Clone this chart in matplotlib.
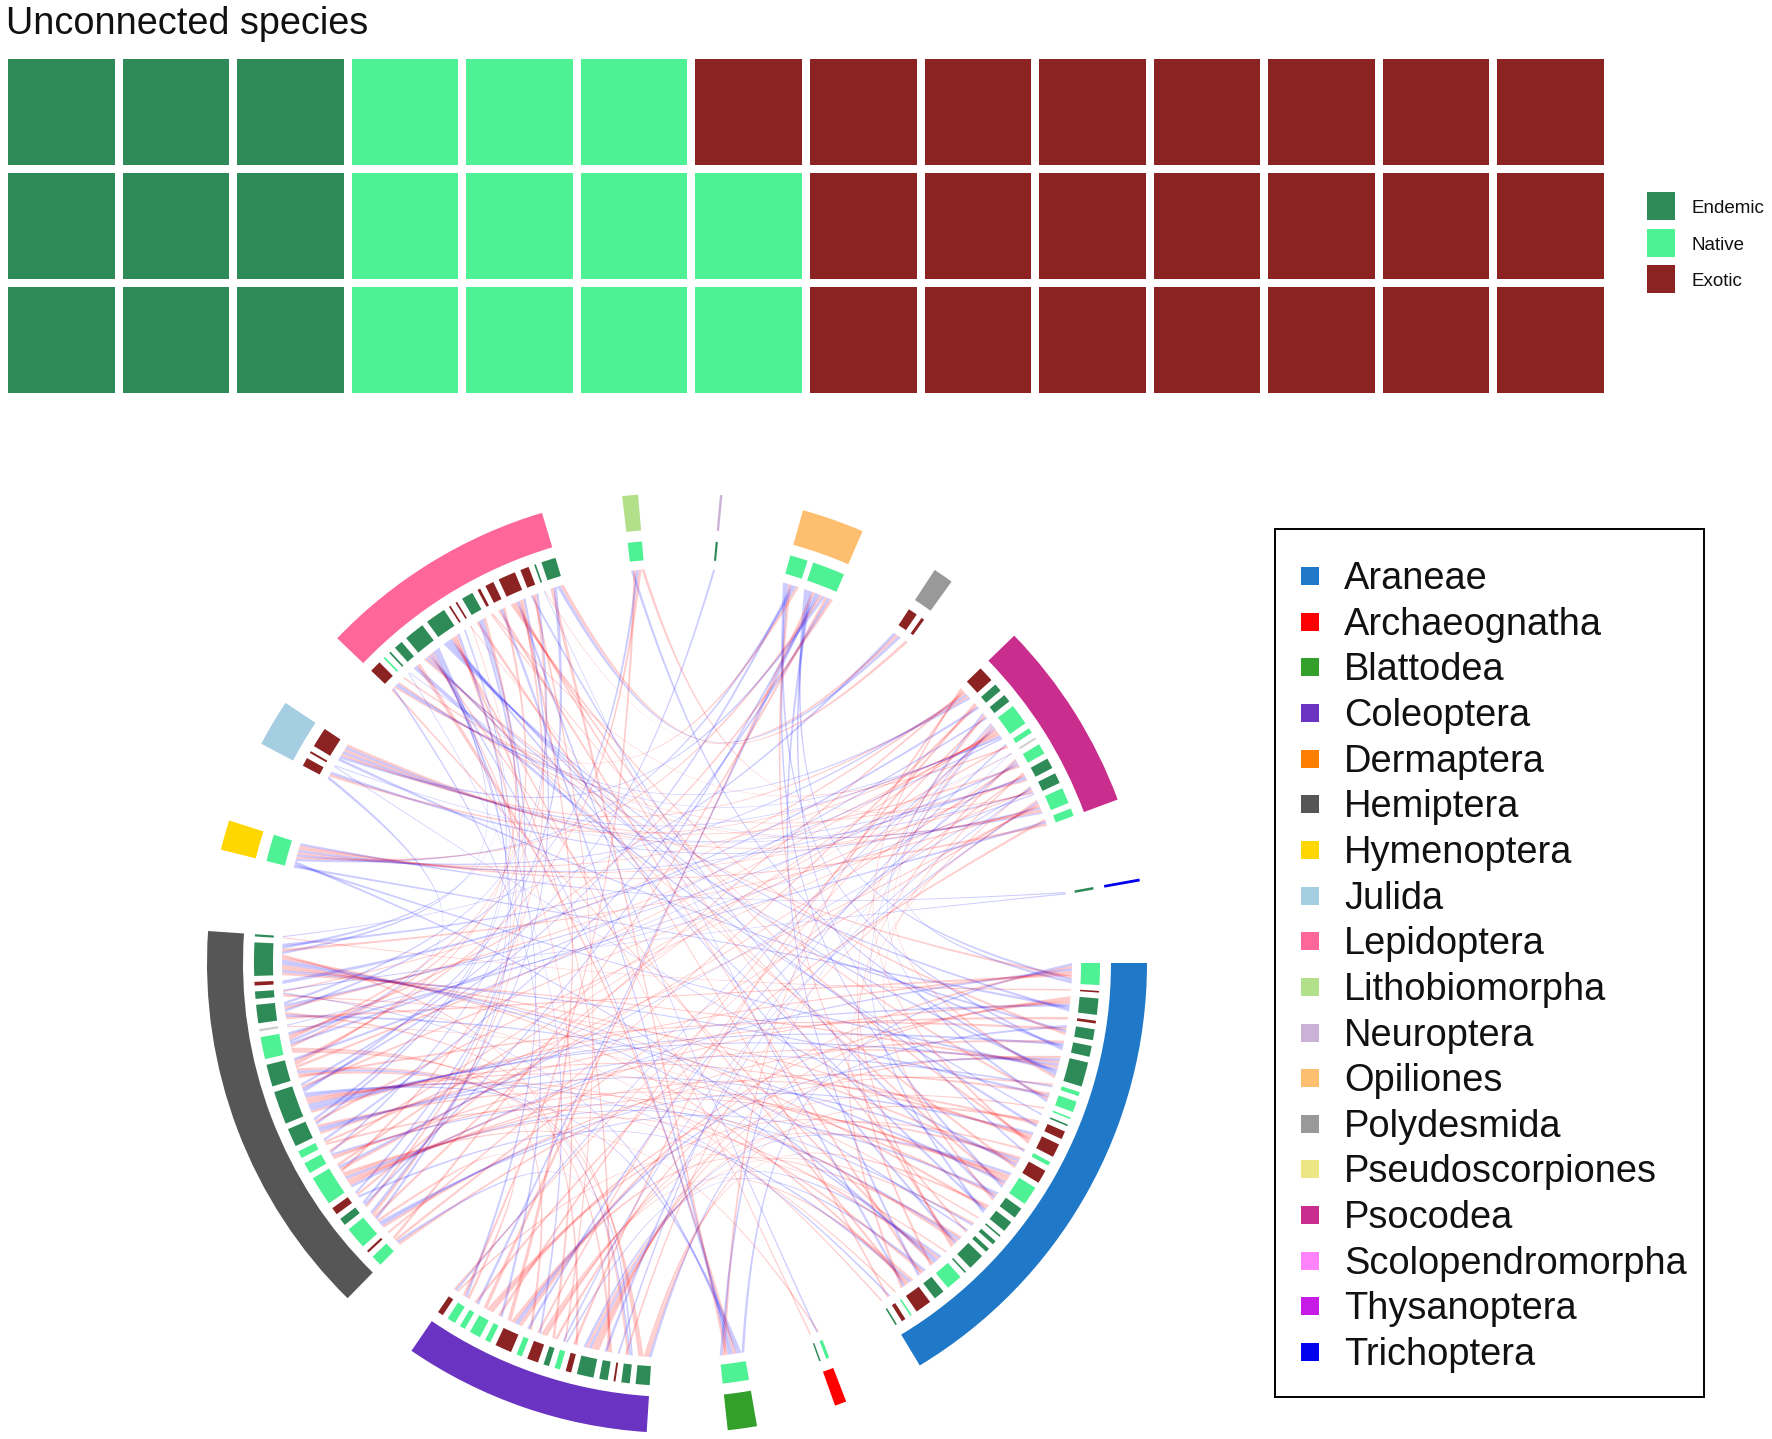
import numpy as np
import matplotlib
matplotlib.use("Agg")
import matplotlib.pyplot as plt
from matplotlib.colors import ListedColormap
from matplotlib.patches import Wedge, PathPatch, Rectangle
from matplotlib.path import Path

plt.rcParams['font.family'] = ['Liberation Sans', 'DejaVu Sans']

# ---------- waffle data ----------
STATUS_NAMES = ["Endemic", "Native", "Exotic"]
STATUS_KEYS = ["E", "N", "X"]
UNCONNECTED_COUNTS = [9, 11, 22]
WAFFLE_ROWS = 3
STATUS_COLORS = {"E": "#2E8B57", "N": "#4EF295", "X": "#8B2323", "U": "#CCCCCC"}

# ---------- legend ----------
ORDERS = ["Araneae", "Archaeognatha", "Blattodea", "Coleoptera", "Dermaptera", "Hemiptera",
          "Hymenoptera", "Julida", "Lepidoptera", "Lithobiomorpha", "Neuroptera", "Opiliones",
          "Polydesmida", "Pseudoscorpiones", "Psocodea", "Scolopendromorpha", "Thysanoptera",
          "Trichoptera"]
ORDER_COLORS = ["#1F78C8", "#FF0000", "#33A02C", "#6A33C2", "#FF7F00", "#565656",
                "#FFD700", "#A6CEE3", "#FF6699", "#B2DF8A", "#CAB2D6", "#FDBF6F",
                "#999999", "#EEE685", "#C92D8E", "#FF83FA", "#C71CE8", "#0000EE"]

# ---------- chord sectors (clockwise from 0 degrees) ----------
SECTORS = ["Araneae", "Archaeognatha", "Blattodea", "Coleoptera", "Hemiptera", "Hymenoptera",
           "Julida", "Lepidoptera", "Lithobiomorpha", "Neuroptera", "Opiliones", "Polydesmida",
           "Psocodea", "Trichoptera"]
SECTOR_SPAN = [58.9, 1.45, 3.6, 30.7, 49.4, 3.7, 5.8, 29.6, 1.95, 0.3, 7.7, 2.5, 23.8, 0.35]
SECTOR_GAP = [10, 9.85, 9.9, 10.1, 10.05, 10.15, 10.1, 10, 10, 10, 10, 10.1, 10, 10]

SP_STATUS = {
    "Araneae": "N X E X E E E N N N E X X N X N E E E E E E E N E X N X E".split(),
    "Archaeognatha": "N E".split(),
    "Blattodea": ["N"],
    "Coleoptera": "E E X E E X N E X N X N N N N X".split(),
    "Hemiptera": "N X N E X N N N E E E N U E E X E E".split(),
    "Hymenoptera": ["N"],
    "Julida": "X X X".split(),
    "Lepidoptera": "X N E E E E X X E X X X X E E".split(),
    "Lithobiomorpha": ["N"],
    "Neuroptera": ["E"],
    "Opiliones": "N N".split(),
    "Polydesmida": "X X".split(),
    "Psocodea": "X E E N N U N E E N N".split(),
    "Trichoptera": ["E"],
}
SP_SIZE = {
    "Araneae": [8, 0.6, 6, 1, 4, 4, 9, 1.5, 4, 0.6, 0.6, 3, 5, 1.5, 5, 7, 4, 4, 0.6, 1.5, 1.5, 6, 0.6, 6, 4, 6, 0.6, 1.5, 0.6],
    "Archaeognatha": [1.5, 0.7],
    "Blattodea": [9],
    "Coleoptera": [5, 3, 0.7, 3, 6, 2, 2, 2, 4, 2, 6, 2, 4, 2, 3, 2],
    "Hemiptera": [3, 0.6, 6, 2, 2, 8, 3, 2, 5, 9, 6, 6, 0.6, 5, 2, 1, 9, 0.6],
    "Hymenoptera": [9],
    "Julida": [3, 0.7, 7],
    "Lepidoptera": [4, 0.6, 0.6, 3, 7, 7, 0.6, 0.6, 4, 1, 3, 6, 3, 0.6, 5],
    "Lithobiomorpha": [5],
    "Neuroptera": [1],
    "Opiliones": [6, 11],
    "Polydesmida": [3, 1],
    "Psocodea": [6, 3, 3, 8, 2, 0.7, 4, 4, 4, 6, 3],
    "Trichoptera": [1],
}

# ---------- interactions: species number -> partner species numbers ----------
RED_LINKS = {
    0: [57, 61, 74, 39], 1: [65], 2: [53, 36, 42], 3: [56], 4: [58, 81], 5: [48],
    6: [64, 54, 36, 94], 7: [44], 8: [50, 79], 9: [40], 11: [53, 32], 12: [62, 57, 81, 91],
    13: [36], 14: [64, 44, 74], 15: [53, 40, 54, 77], 16: [57, 98], 17: [64, 32], 18: [60],
    19: [36], 20: [81], 21: [56, 42, 93, 87], 22: [47], 23: [53, 97, 70], 24: [57, 80],
    25: [64, 74, 99, 40], 26: [55], 27: [78], 28: [62], 29: [53], 30: [75],
    31: [84, 73, 91], 32: [58, 61], 33: [100, 59], 35: [75, 58], 37: [92, 64], 38: [82],
    39: [74], 40: [94], 41: [59], 42: [81], 43: [93], 44: [88], 45: [101], 46: [85, 50],
    47: [98], 48: [100], 49: [92], 50: [91], 51: [75], 52: [94], 53: [97, 81], 54: [95],
    55: [100], 56: [99], 57: [98], 58: [94], 59: [82], 61: [94], 62: [91], 64: [100],
    66: [99, 94, 101, 88], 67: [94], 69: [97, 91, 100], 70: [100, 87], 71: [98], 77: [50],
    78: [58], 79: [95], 80: [59], 83: [89], 84: [90], 85: [99, 58], 88: [59, 48], 96: [53],
}
BLUE_LINKS = {
    0: [94, 53, 31, 88], 2: [75, 57, 66], 4: [32, 69], 5: [74, 57, 87], 6: [57, 75, 66, 42, 85],
    7: [56], 8: [64, 93], 10: [73], 11: [75], 12: [50], 13: [88], 14: [56, 68], 15: [61, 36, 87],
    16: [82, 50], 17: [74, 94], 19: [53], 20: [64], 21: [75, 54], 23: [64, 38, 66], 24: [36, 88],
    25: [52, 83], 27: [57], 29: [81], 31: [80, 74, 57, 62, 96], 33: [48, 58], 34: [95], 35: [99],
    38: [100], 40: [72], 41: [97], 43: [70], 45: [88], 46: [74], 47: [94], 50: [74], 51: [88],
    53: [99], 54: [78], 56: [76], 57: [84, 87], 59: [93], 60: [101], 61: [97, 85], 63: [92],
    64: [74], 65: [89], 66: [102, 98, 91, 87], 67: [100, 59], 68: [98], 69: [94, 99, 88],
    70: [94, 91], 72: [100], 74: [51], 75: [56], 76: [64], 78: [52], 81: [50], 82: [61],
    84: [89], 86: [57], 88: [55], 94: [64], 96: [58], 99: [59], 102: [62],
}

# ---------- geometry and style ----------
W, H = 1772, 1439
CX, CY = 677, 963
R_OUT, R_IN = 470, 434
S_OUT, S_IN = 423, 404
R_LINK = 395
SEG_GAP = 0.8
RED, BLUE = (1, 0, 0, 0.2), (0, 0, 1, 0.2)

fig = plt.figure(figsize=(W / 100, H / 100), dpi=100, facecolor="white")

def px_axes(x0, y0, x1, y1):
    return fig.add_axes([x0 / W, 1 - y1 / H, (x1 - x0) / W, (y1 - y0) / H])

# ---------- waffle ----------
ax_w = px_axes(4, 55, 1608, 397)
codes = np.concatenate([np.full(c, i) for i, c in enumerate(UNCONNECTED_COUNTS)])
grid = codes.reshape(-1, WAFFLE_ROWS).T
ax_w.pcolormesh(grid, cmap=ListedColormap([STATUS_COLORS[k] for k in STATUS_KEYS]), vmin=0, vmax=2,
                edgecolors="white", linewidth=5.7)
ax_w.set_axis_off()

# ---------- chord ----------
ax = px_axes(CX - 480, CY - 480, CX + 480, CY + 480)
ax.set_xlim(-480, 480)
ax.set_ylim(-480, 480)
ax.set_axis_off()

seg_range = []
angle = 0.0
for name, span, gap in zip(SECTORS, SECTOR_SPAN, SECTOR_GAP):
    col = ORDER_COLORS[ORDERS.index(name)]
    ax.add_patch(Wedge((0, 0), R_OUT, angle - span, angle, width=R_OUT - R_IN, fc=col, ec="none"))
    sizes = SP_SIZE[name]
    seg_gap = SEG_GAP if len(sizes) > 1 else 0
    unit = (span - seg_gap * (len(sizes) - 1)) / sum(sizes)
    a = angle
    for s, st in zip(sizes, SP_STATUS[name]):
        w = s * unit
        ax.add_patch(Wedge((0, 0), S_OUT, a - w, a, width=S_OUT - S_IN, fc=STATUS_COLORS[st], ec="none"))
        seg_range.append((a, w))
        a -= w + seg_gap
    angle -= span + gap

links = []
for table, col in ((RED_LINKS, RED), (BLUE_LINKS, BLUE)):
    for src, partners in table.items():
        links += [(src, p, col) for p in partners]
links.sort(key=lambda t: (t[0], t[1]))

ends = {i: [] for i in range(len(seg_range))}
for k, (s, t, _) in enumerate(links):
    ends[s].append(k)
    ends[t].append(k)

slots = {}
for i, ks in ends.items():
    a, w = seg_range[i]
    if not ks:
        continue
    n = len(ks)
    for j, k in enumerate(ks):
        slots[(k, i)] = (a - j * w / n, a - (j + 1) * w / n)

def pt(deg, r):
    t = np.deg2rad(deg)
    return np.array((r * np.cos(t), r * np.sin(t)))

def ctrl(a, b):
    d = (b - a + 180) % 360 - 180
    mid = a + d / 2
    return pt(mid, R_LINK * (0.06 + 0.4 * (1 - abs(d) / 180)))

PULL = 0.8
for k, (s, t, col) in enumerate(links):
    a1, a2 = slots[(k, s)]
    b1, b2 = slots[(k, t)]
    C = ctrl((a1 + a2) / 2, (b1 + b2) / 2)
    pa1, pa2, pb1, pb2 = pt(a1, R_LINK), pt(a2, R_LINK), pt(b1, R_LINK), pt(b2, R_LINK)
    verts = [pa1, pa2,
             pa2 + PULL * (C - pa2), pb1 + PULL * (C - pb1), pb1,
             pb2,
             pb2 + PULL * (C - pb2), pa1 + PULL * (C - pa1), pa1]
    codes_ = [Path.MOVETO, Path.LINETO, Path.CURVE4, Path.CURVE4, Path.CURVE4, Path.LINETO,
              Path.CURVE4, Path.CURVE4, Path.CURVE4]
    ax.add_patch(PathPatch(Path(verts, codes_), fc=col, ec="none", lw=0))

# ---------- overlay: title and legends ----------
ov = fig.add_axes([0, 0, 1, 1], facecolor="none")
ov.set_xlim(0, W)
ov.set_ylim(H, 0)
ov.set_axis_off()
ov.text(6, 24.5, "Unconnected species", fontsize=27.3, va="center", ha="left", color="#111111")

for i, (name, key) in enumerate(zip(STATUS_NAMES, STATUS_KEYS)):
    y = 206 + i * 36.5
    ov.add_patch(Rectangle((1647, y - 14), 28, 28, fc=STATUS_COLORS[key], ec="none"))
    ov.text(1692, y + 2.5, name, fontsize=13.5, va="center", ha="left", color="#111111")

ov.add_patch(Rectangle((1275, 529), 429, 868, fc="white", ec="black", lw=1.4))
for i, (name, col) in enumerate(zip(ORDERS, ORDER_COLORS)):
    y = 576 + i * 45.65
    ov.add_patch(Rectangle((1301, y - 9), 18, 18, fc=col, ec="none"))
    ov.text(1344, y + 3, name, fontsize=27.4, va="center", ha="left", color="#111111")

fig.savefig("out.png", dpi=100, facecolor="white")
